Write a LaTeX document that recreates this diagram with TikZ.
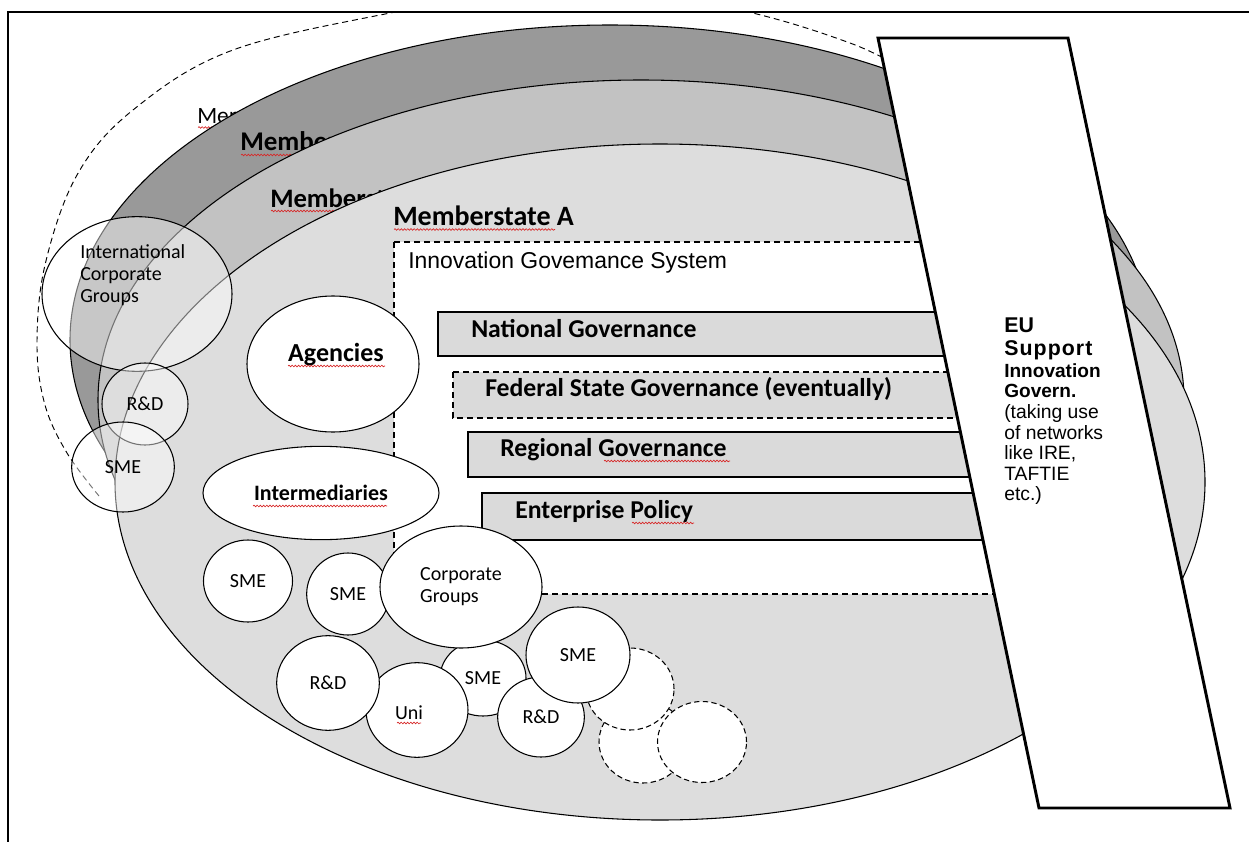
\documentclass[tikz,border=0pt]{standalone}
\usepackage{fontspec}
\setmainfont{Carlito}
\newfontfamily\arialfam{Liberation Sans}
\usetikzlibrary{shapes.geometric,decorations.pathmorphing}
\definecolor{ringdark}{gray}{0.6}
\definecolor{ringmid}{gray}{0.76}
\definecolor{ringlight}{gray}{0.865}
\definecolor{boxgray}{gray}{0.855}
\definecolor{squig}{RGB}{215,40,40}
\newcommand{\fsz}[2]{\fontsize{#1pt}{#2pt}\selectfont}
\begin{document}
\begin{tikzpicture}[x=0.75pt,y=-0.75pt,
  ringline/.style={draw=black,line width=0.8pt},
  blob/.style={ellipse,draw=black,line width=0.8pt,fill=white,inner sep=0pt,outer sep=0pt,font=\fsz{15}{16.5},align=center},
  ghost/.style={blob,fill opacity=0.45,text opacity=1},
  dashblob/.style={blob,dash pattern=on 4pt off 2.5pt},
  govbox/.style={draw=black,line width=1.1pt,fill=boxgray},
  govtxt/.style={anchor=base west,inner sep=0pt,font=\bfseries\fsz{19.3}{22}},
  mstxt/.style={anchor=base west,inner sep=0pt},
  eutxt/.style={anchor=base west,inner sep=0pt,font=\arialfam\fsz{14.5}{16}},
  squiggle/.style={draw=squig,line width=0.5pt,decorate,decoration={snake,amplitude=0.6pt,segment length=2.4pt}},
]
\useasboundingbox (0,0) rectangle (1249,842);
\begin{scope}
\clip (8,12) rectangle (1249,842);
% outer dashed arc
\draw[line width=0.7pt,dash pattern=on 4.5pt off 3pt] plot[smooth,tension=0.6] coordinates {(99,496) (67,453) (45,405) (37,345) (45,265) (77,175) (133,110) (233,50) (405,10) (572,-20) (740,10) (850,43) (905,70)};
% member state rings
\node[mstxt,font=\fsz{17.5}{19}] (ms4) at (197,123) {Memberstate};
\draw[squiggle] (198,127.5) -- (300,127.5);
\draw[ringline,fill=ringdark] (610,340) ellipse [x radius=540,y radius=315];
\node[mstxt,font=\bfseries\fsz{20.25}{22}] (ms3) at (240,150) {Memberstate};
\draw[squiggle] (241,155) -- (390,155);
\draw[ringline,fill=ringmid] (641,400) ellipse [x radius=543,y radius=320];
\node[mstxt,font=\bfseries\fsz{20}{22}] (ms2) at (270,207) {Memberstate};
\draw[squiggle] (271,211) -- (420,211);
\draw[ringline,fill=ringlight] (660,482) ellipse [x radius=545,y radius=338];
\node[mstxt,font=\bfseries\fsz{21}{23}] (ms1) at (393,225) {Memberstate A};
\draw[squiggle] (394,229.5) -- (555,229.5);
% innovation governance system
\draw[draw=black,line width=0.8pt,dash pattern=on 4.5pt off 3pt,fill=white] (394,242) rectangle (1060,594);
\node[anchor=base west,inner sep=0pt,font=\arialfam\fsz{17.2}{19}] (igs) at (408,268) {Innovation Govemance System};
% governance levels
\draw[govbox] (438,312) rectangle (1060,356);
\node[govtxt] (nat) at (471,337) {National Governance};
\draw[govbox,dash pattern=on 4.5pt off 3pt] (453,372) rectangle (1060,418);
\node[govtxt] (fed) at (485,396) {Federal State Governance (eventually)};
\draw[govbox] (468,432) rectangle (1060,477);
\node[govtxt] (reg) at (500,456) {Regional Governance};
\draw[squiggle] (604,461) -- (730,461);
\draw[govbox] (482,493) rectangle (1060,540);
\node[govtxt] (ent) at (515,518) {Enterprise Policy};
\draw[squiggle] (632,523) -- (694,523);
% agencies and intermediaries
\node[blob,minimum width=129pt,minimum height=102pt] (agn) at (333,364) {};
\node[anchor=base,inner sep=0pt,font=\bfseries\fsz{19.5}{21}] (agnt) at (336,361) {Agencies};
\draw[squiggle] (288,366) -- (385,366);
\node[blob,font=\bfseries\fsz{16.5}{18},minimum width=177pt,minimum height=70pt] (intm) at (321,493) {Intermediaries};
\draw[squiggle] (253,506) -- (387,506);
% bottom cluster
\node[blob,minimum width=64.5pt,minimum height=57pt] (smem) at (483,678) {SME};
\node[dashblob,minimum width=66pt,minimum height=61.5pt] (dc3) at (643,742) {};
\node[dashblob,minimum width=66pt,minimum height=61.5pt] (dc1) at (630,689) {};
\node[dashblob,minimum width=66.75pt,minimum height=60.75pt] (dc2) at (702,742) {};
\node[blob,minimum width=65pt,minimum height=60pt] (rdr) at (541,717) {R\&D};
\node[blob,minimum width=78pt,minimum height=72pt] (smer) at (578,655) {SME};
\node[blob,minimum width=76.5pt,minimum height=71pt] (uni) at (417,710) {};
\node[anchor=base,inner sep=0pt,font=\fsz{15}{16.5}] (unit) at (409,719) {Uni};
\draw[squiggle] (397,723) -- (421,723);
\node[blob,minimum width=77pt,minimum height=71pt] (rdb) at (328,683) {R\&D};
\node[blob,minimum width=62pt,minimum height=61.5pt] (sme2) at (348,594) {SME};
\node[blob,align=left,minimum width=121.5pt,minimum height=91.5pt] (cg) at (461,587) {Corporate\\Groups};
\node[blob,minimum width=66.75pt,minimum height=61.5pt] (sme1) at (248,581) {SME};
% left translucent circles
\node[ghost,minimum width=142.5pt,minimum height=116pt] (icg) at (137,294) {};
\node[anchor=north west,align=left,inner sep=0pt,font=\fsz{15}{16.5}] (icgt) at (80,244) {International\\Corporate\\Groups};
\node[ghost,minimum width=64.5pt,minimum height=61.5pt] (rdl) at (145,404) {R\&D};
\node[ghost,minimum width=77pt,minimum height=67.5pt] (smel) at (123,467) {SME};
% EU support bar
\draw[line width=2.2pt,fill=white] (878,38) -- (1068,38) -- (1230,808) -- (1039,808) -- cycle;
\node[eutxt,font=\arialfam\bfseries\fsz{16}{18}] (eu1) at (1004,332) {EU};
\node[eutxt,font=\arialfam\bfseries\fsz{16}{18}\addfontfeature{LetterSpace=5}] (eu2) at (1004,355) {Support};
\node[eutxt,font=\arialfam\bfseries\fsz{14.3}{16}] (eu3) at (1004,377) {Innovation};
\node[eutxt,font=\arialfam\bfseries\fsz{14.3}{16}] (eu4) at (1004,397) {Govern.};
\node[eutxt] (eu5) at (1004,418) {(taking use};
\node[eutxt] (eu6) at (1004,439) {of networks};
\node[eutxt] (eu7) at (1004,459) {like IRE,};
\node[eutxt] (eu8) at (1004,480) {TAFTIE};
\node[eutxt] (eu9) at (1004,500) {etc.)};
\end{scope}
% frame
\draw[line width=1.5pt] (8,842) -- (8,12) -- (1249,12);
\end{tikzpicture}
\end{document}
